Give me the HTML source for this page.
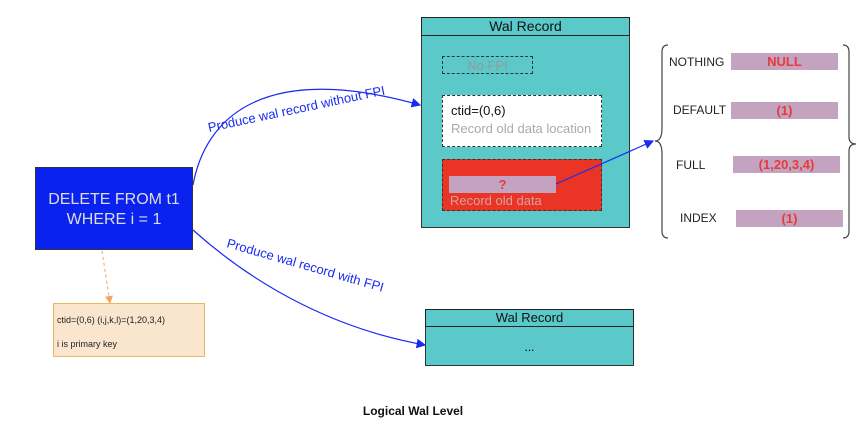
<!DOCTYPE html>
<html><head><style>
body{margin:0;width:866px;height:434px;background:#fff;overflow:hidden;font-family:"Liberation Sans",sans-serif;position:relative}
div{position:absolute;box-sizing:border-box}
.pk{background:#c3a3bf;color:#e83a3a;font-weight:bold;font-size:13px;text-align:center;line-height:17px}
.lb{font-size:12px;color:#222}
</style></head><body>
<div style="left:421px;top:17px;width:209px;height:211px;background:#5bc8c9;border:1px solid #333"></div>
<div style="left:421px;top:17px;width:209px;height:19px;border:1.5px solid #222;text-align:center;font-size:14px;line-height:17px;color:#111">Wal Record</div>
<div style="left:442px;top:56px;width:91px;height:18px;border:1px dashed #333;text-align:center;color:#999;font-size:13px;line-height:17px">No FPI</div>
<div style="left:442px;top:95px;width:160px;height:52px;background:#fff;border:1px dashed #333;padding:6px 0 0 8px;font-size:13px;line-height:18px;color:#111">ctid=(0,6)<br><span style="color:#aaa">Record old data location</span></div>
<div style="left:442px;top:159px;width:160px;height:52px;background:#e93426;border:1px dashed #333"></div>
<div class="pk" style="left:449px;top:176px;width:107px;height:17px">?</div>
<div style="left:450px;top:193px;font-size:13px;color:#d9a0a0">Record old data</div>

<div style="left:425px;top:309px;width:209px;height:57px;background:#5bc8c9;border:1px solid #333"></div>
<div style="left:425px;top:309px;width:209px;height:18px;border:1.5px solid #222;text-align:center;font-size:13px;line-height:16px;color:#111">Wal Record</div>
<div style="left:425px;top:340px;width:209px;text-align:center;font-size:12px">...</div>

<div style="left:35px;top:167px;width:158px;height:83px;background:#0a22f0;border:1px solid #333;color:#ddd;font-size:16px;text-align:center;padding-top:22px;line-height:20px">DELETE FROM t1<br>WHERE i = 1</div>
<div style="left:53px;top:303px;width:152px;height:54px;background:#fae5cf;border:1px solid #e8b860;font-size:9px;padding:10px 0 0 3px;line-height:12px;color:#222">ctid=(0,6) (i,j,k,l)=(1,20,3,4)<br><br>i is primary key</div>

<div class="lb" style="left:669px;top:55px">NOTHING</div>
<div class="pk" style="left:731px;top:53px;width:107px">NULL</div>
<div class="lb" style="left:673px;top:103px">DEFAULT</div>
<div class="pk" style="left:731px;top:102px;width:107px">(1)</div>
<div class="lb" style="left:676px;top:158px">FULL</div>
<div class="pk" style="left:733px;top:156px;width:107px">(1,20,3,4)</div>
<div class="lb" style="left:680px;top:211px">INDEX</div>
<div class="pk" style="left:736px;top:210px;width:107px">(1)</div>

<div style="left:0;top:404px;width:826px;text-align:center;font-size:12px;font-weight:bold;color:#111">Logical Wal Level</div>

<svg width="866" height="434" style="position:absolute;left:0;top:0">
<defs><marker id="a" markerWidth="8" markerHeight="8" refX="7" refY="4" orient="auto"><path d="M0,0 L8,4 L0,8 z" fill="#1a2cf0"/></marker>
<marker id="b" markerWidth="8" markerHeight="8" refX="7" refY="4" orient="auto"><path d="M0,0 L8,4 L0,8 z" fill="#f4a460"/></marker></defs>
<path d="M668,45 Q662,45 662,52 L662,128 Q662,141 655,141 Q662,141 662,154 L662,231 Q662,238 668,238" fill="none" stroke="#444" stroke-width="1.2"/>
<path d="M843,45 Q849,45 849,52 L849,137 Q849,144 856,144 Q849,144 849,151 L849,231 Q849,238 843,238" fill="none" stroke="#444" stroke-width="1.2"/>
<path d="M193,185 C205,120 260,60 420,105" fill="none" stroke="#1a2cf0" stroke-width="1.2" marker-end="url(#a)"/>
<path d="M193,230 C260,290 340,330 425,345" fill="none" stroke="#1a2cf0" stroke-width="1.2" marker-end="url(#a)"/>
<path d="M556,184 L653,141" fill="none" stroke="#1a2cf0" stroke-width="1.2" marker-end="url(#a)"/>
<path d="M102,251 L110,303" fill="none" stroke="#f4a460" stroke-width="1" stroke-dasharray="3,3" marker-end="url(#b)"/>
<text x="209" y="132" font-size="13" fill="#1a2cf0" font-family="Liberation Sans" transform="rotate(-12 209 132)">Produce wal record without FPI</text>
<text x="226" y="247" font-size="13" fill="#1a2cf0" font-family="Liberation Sans" transform="rotate(16 226 247)">Produce wal record with FPI</text>
</svg>
</body></html>
